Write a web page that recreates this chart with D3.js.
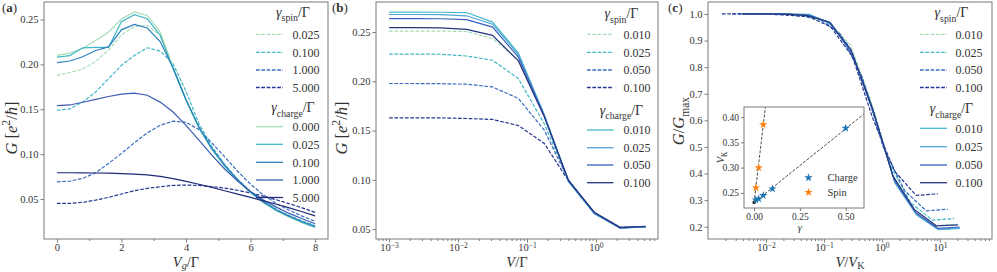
<!DOCTYPE html>
<html>
<head>
<meta charset="utf-8">
<script src="https://cdn.jsdelivr.net/npm/d3@7"></script>
<style>
  body { margin: 0; background: #fff; }
  svg, svg text { font-family: "Liberation Serif", "DejaVu Serif", serif; }
</style>
</head>
<body>
<svg id="chart" width="997" height="272" font-family="Liberation Serif, DejaVu Serif, serif"></svg>
<script>
// ---- panel (a): G vs Vg ----
const vgA = [0, 0.4, 0.8, 1.2, 1.6, 2.0, 2.4, 2.8, 3.2, 3.6, 4.0, 4.4, 4.8, 5.2, 5.6, 6.0, 6.4, 6.8, 7.2, 7.6, 8.0];
const spinLabelsA = ["0.025", "0.100", "1.000", "5.000"];
const spinA = [
  [0.1878, 0.191, 0.1948, 0.2033, 0.216, 0.233, 0.2422, 0.2433, 0.2325, 0.196, 0.160, 0.1295, 0.1055, 0.0868, 0.0705, 0.0572, 0.0462, 0.0372, 0.0302, 0.024, 0.0187],
  [0.1489, 0.1504, 0.1581, 0.1693, 0.184, 0.1989, 0.2100, 0.2185, 0.2148, 0.2007, 0.170, 0.134, 0.1085, 0.0885, 0.072, 0.0585, 0.0475, 0.0385, 0.0315, 0.0255, 0.0205],
  [0.0692, 0.070, 0.073, 0.0793, 0.0896, 0.1008, 0.1126, 0.1237, 0.1322, 0.1368, 0.1355, 0.1275, 0.1125, 0.097, 0.081, 0.0665, 0.0545, 0.045, 0.0375, 0.031, 0.0252],
  [0.0452, 0.0452, 0.0463, 0.0489, 0.0519, 0.0556, 0.0593, 0.0619, 0.0637, 0.0652, 0.0656, 0.0652, 0.064, 0.0622, 0.0598, 0.0568, 0.0532, 0.0492, 0.0448, 0.0402, 0.0352]
];
const chargeLabelsA = ["0.000", "0.025", "0.100", "1.000", "5.000"];
const chargeA = [
  [0.210, 0.2125, 0.218, 0.2265, 0.236, 0.2505, 0.2585, 0.2545, 0.236, 0.197, 0.161, 0.130, 0.106, 0.087, 0.0705, 0.057, 0.046, 0.037, 0.030, 0.0238, 0.0185],
  [0.208, 0.2098, 0.2185, 0.219, 0.219, 0.2475, 0.2553, 0.2508, 0.2325, 0.195, 0.160, 0.1295, 0.1055, 0.0868, 0.0705, 0.0572, 0.0462, 0.0372, 0.0302, 0.024, 0.0187],
  [0.202, 0.2038, 0.2085, 0.2155, 0.2195, 0.2385, 0.2445, 0.2405, 0.2255, 0.196, 0.161, 0.1305, 0.1065, 0.0878, 0.0715, 0.058, 0.047, 0.038, 0.031, 0.025, 0.0195],
  [0.1540, 0.1548, 0.1578, 0.161, 0.1642, 0.1668, 0.1680, 0.1656, 0.158, 0.147, 0.132, 0.1156, 0.099, 0.0835, 0.070, 0.0585, 0.049, 0.041, 0.034, 0.028, 0.0225],
  [0.0793, 0.0793, 0.0792, 0.079, 0.0788, 0.0784, 0.0778, 0.077, 0.0752, 0.0727, 0.0697, 0.0665, 0.063, 0.0592, 0.0555, 0.0518, 0.048, 0.0442, 0.0402, 0.0358, 0.0312]
];

// ---- panel (b): G vs V (log) ----
const vB = [0.001, 0.00237, 0.00562, 0.0133, 0.0316, 0.0750, 0.178, 0.40, 0.946, 2.24, 5.3];
const gammaLabelsB = ["0.010", "0.025", "0.050", "0.100"];
const spinB = [
  [0.2510, 0.2510, 0.2510, 0.2505, 0.2435, 0.2215, 0.1650, 0.0985, 0.0660, 0.0514, 0.0525],
  [0.2277, 0.2277, 0.2275, 0.2257, 0.2214, 0.2028, 0.1570, 0.1000, 0.0660, 0.0512, 0.0525],
  [0.1978, 0.1978, 0.1976, 0.1971, 0.1943, 0.1826, 0.1505, 0.0995, 0.0665, 0.0514, 0.0526],
  [0.1630, 0.1630, 0.1629, 0.1623, 0.1613, 0.1552, 0.1370, 0.0990, 0.0668, 0.0518, 0.0528]
];
const chargeB = [
  [0.2702, 0.2702, 0.2701, 0.2698, 0.2601, 0.2287, 0.1660, 0.0982, 0.0662, 0.0512, 0.0525],
  [0.2678, 0.2678, 0.2677, 0.2665, 0.2580, 0.2272, 0.1655, 0.0985, 0.0655, 0.0510, 0.0524],
  [0.2636, 0.2636, 0.2635, 0.2626, 0.2550, 0.2245, 0.1650, 0.0990, 0.0665, 0.0512, 0.0525],
  [0.2544, 0.2544, 0.2542, 0.2528, 0.2467, 0.2207, 0.1640, 0.0995, 0.0672, 0.0518, 0.0527]
];

// ---- panel (c) + inset: Kondo scale V_K vs gamma ----
const gammaCharge = [0.01, 0.025, 0.05, 0.1, 0.5];
const vKCharge = [0.236, 0.238, 0.245, 0.258, 0.378];
const gammaSpin = [0.01, 0.025, 0.05, 0.1];
const vKSpin = [0.26, 0.30, 0.385, 0.575];
const fitCharge = [0.231, 0.292]; // intercept, slope
const fitSpin = [0.231, 3.05];

const spinColors = ["#a8dcb5", "#41b6c4", "#3b6cc0", "#263592"];
const chargeColorsA = ["#a8dcb5", "#41b6c4", "#2c80bd", "#3d5cb2", "#1f2b78"];
const chargeColorsB = ["#46b8cc", "#4ea6d6", "#3a60c0", "#26347e"];

const svg = d3.select("#chart");
const spineColor = "#7a7a7a";
const textColor = "#333";
const tickSize = 10.5;

function rich(t, parts, size, subShift = 0.3) {
  let off = 0;
  parts.forEach(p => {
    const s = p[0], o = p[1] || {};
    const target = o.sub ? size * subShift : o.sup ? -size * 0.42 : 0;
    const ts = t.append("tspan").text(s).attr("dy", target - off);
    off = target;
    ts.attr("font-size", (o.sub || o.sup) ? size * 0.7 : size);
    if (o.it) ts.attr("font-style", "italic");
    if (o.b) ts.attr("font-weight", "bold");
  });
  return t;
}

function frame(x0, x1, y0, y1) {
  svg.append("rect").attr("x", x0).attr("y", y0)
    .attr("width", x1 - x0).attr("height", y1 - y0)
    .attr("fill", "none").attr("stroke", spineColor).attr("stroke-width", 1);
}

function styleAxis(g, size) {
  g.attr("font-family", null).attr("font-size", null);
  g.select(".domain").remove();
  g.selectAll(".tick line").attr("stroke", spineColor);
  g.selectAll(".tick text").attr("fill", textColor).attr("font-size", size);
}

function logLabels(g) {
  g.selectAll(".tick text").each(function (d) {
    const t = d3.select(this).text("");
    const e = Math.round(Math.log10(d));
    t.append("tspan").text("10");
    t.append("tspan").attr("dy", "-0.45em").attr("font-size", "0.72em").text(e < 0 ? "\u2212" + (-e) : e);
  });
}

function minorLog(domain) {
  const out = [];
  for (let k = -5; k <= 3; k++) for (let m = 2; m <= 9; m++) {
    const v = m * Math.pow(10, k);
    if (v >= domain[0] && v <= domain[1]) out.push(v);
  }
  return out;
}

function legend(L) {
  const titleSize = 14;
  const drawGroup = (title, ty, labels, ys, colors, dash) => {
    rich(svg.append("text").attr("x", L.tx).attr("y", ty).attr("text-anchor", "middle").attr("fill", textColor),
      [["\u03b3", { it: 1 }], [title, { sub: 1 }], ["/\u0393"]], titleSize);
    labels.forEach((lab, i) => {
      svg.append("line").attr("x1", L.lx0).attr("x2", L.lx1).attr("y1", ys[i]).attr("y2", ys[i])
        .attr("stroke", colors[i]).attr("stroke-width", 1.3)
        .attr("stroke-dasharray", dash ? "3.7,1.6" : null);
      svg.append("text").attr("x", L.textX).attr("y", ys[i]).attr("dy", "0.35em")
        .attr("font-size", 12).attr("fill", textColor).text(lab);
    });
  };
  drawGroup("spin", L.spinTitleY, L.spinLabels, L.spinYs, L.spinColors, true);
  drawGroup("charge", L.chargeTitleY, L.chargeLabels, L.chargeYs, L.chargeColors, false);
}

function drawLines(x, y, xs, series, colors, dash) {
  const line = d3.line().x((d, i) => x(xs[i])).y(d => y(d));
  series.forEach((s, i) => {
    svg.append("path").datum(s).attr("d", line).attr("fill", "none")
      .attr("stroke", colors[i]).attr("stroke-width", 1.2)
      .attr("stroke-dasharray", dash ? "3.7,1.6" : null);
  });
}

function panelLabel(x, letter) {
  rich(svg.append("text").attr("x", x).attr("y", 12).attr("fill", textColor),
    [["("], [letter, { b: 1 }], [")"]], 13);
}

function xLabel(cx, parts) {
  rich(svg.append("text").attr("x", cx).attr("y", 266.5).attr("text-anchor", "middle").attr("fill", textColor),
    parts, 14.5, 0.2);
}

// ================= panel (a) =================
{
  const L = 44, R = 328, T = 2, B = 239;
  const x = d3.scaleLinear().domain([-0.4, 8.4]).range([L, R]);
  const y = d3.scaleLinear().domain([0.0055, 0.2695]).range([B, T]);
  svg.append("g").attr("transform", `translate(0,${B})`)
    .call(d3.axisBottom(x).tickValues([1, 3, 5, 7]).tickSize(2).tickFormat(""))
    .call(g => styleAxis(g, tickSize));
  svg.append("g").attr("transform", `translate(0,${B})`)
    .call(d3.axisBottom(x).tickValues([0, 2, 4, 6, 8]).tickSize(3.5).tickPadding(1).tickFormat(d3.format("d")))
    .call(g => styleAxis(g, tickSize));
  svg.append("g").attr("transform", `translate(${L},0)`)
    .call(d3.axisLeft(y).tickValues([0.05, 0.10, 0.15, 0.20, 0.25]).tickSize(3.5).tickPadding(2).tickFormat(d3.format(".2f")))
    .call(g => styleAxis(g, tickSize));
  drawLines(x, y, vgA, spinA, spinColors, true);
  drawLines(x, y, vgA, chargeA, chargeColorsA, false);
  frame(L, R, T, B);
  legend({
    tx: 293, lx0: 256, lx1: 283, textX: 292.5,
    spinTitleY: 16.7, spinLabels: spinLabelsA, spinYs: [34.3, 52.3, 70, 87.5], spinColors: spinColors,
    chargeTitleY: 112.3, chargeLabels: chargeLabelsA, chargeYs: [126.7, 144.3, 162.3, 180, 197.5], chargeColors: chargeColorsA
  });
  xLabel((L + R) / 2, [["V", { it: 1 }], ["g", { it: 1, sub: 1 }], ["/\u0393"]]);
  rich(svg.append("text").attr("transform", "translate(17,128) rotate(-90)").attr("text-anchor", "middle").attr("fill", textColor),
    [["G", { it: 1 }], [" ["], ["e", { it: 1 }], ["2", { sup: 1 }], ["/"], ["\u0127", { it: 1 }], ["]"]], 16.5);
  panelLabel(2, "a");
}

// ================= panel (b) =================
{
  const L = 376, R = 658, T = 2, B = 239;
  const dom = [Math.pow(10, -3.19), Math.pow(10, 0.9)];
  const x = d3.scaleLog().domain(dom).range([L, R]);
  const y = d3.scaleLinear().domain([0.040, 0.2805]).range([B, T]);
  svg.append("g").attr("transform", `translate(0,${B})`)
    .call(d3.axisBottom(x).tickValues(minorLog(dom)).tickSize(2).tickFormat(""))
    .call(g => styleAxis(g, tickSize));
  svg.append("g").attr("transform", `translate(0,${B})`)
    .call(d3.axisBottom(x).tickValues([1e-3, 1e-2, 1e-1, 1]).tickSize(3.5).tickPadding(1.5))
    .call(g => styleAxis(g, tickSize)).call(logLabels);
  svg.append("g").attr("transform", `translate(${L},0)`)
    .call(d3.axisLeft(y).tickValues([0.05, 0.10, 0.15, 0.20, 0.25]).tickSize(3.5).tickPadding(2).tickFormat(d3.format(".2f")))
    .call(g => styleAxis(g, tickSize));
  drawLines(x, y, vB, spinB, spinColors, true);
  drawLines(x, y, vB, chargeB, chargeColorsB, false);
  frame(L, R, T, B);
  legend({
    tx: 621.5, lx0: 587, lx1: 613.5, textX: 623.5,
    spinTitleY: 18.3, spinLabels: gammaLabelsB, spinYs: [34.3, 52.3, 70, 87.5], spinColors: spinColors,
    chargeTitleY: 115, chargeLabels: gammaLabelsB, chargeYs: [130, 147.7, 165, 182.7], chargeColors: chargeColorsB
  });
  xLabel((L + R) / 2, [["V", { it: 1 }], ["/\u0393"]]);
  rich(svg.append("text").attr("transform", "translate(347,128) rotate(-90)").attr("text-anchor", "middle").attr("fill", textColor),
    [["G", { it: 1 }], [" ["], ["e", { it: 1 }], ["2", { sup: 1 }], ["/"], ["\u0127", { it: 1 }], ["]"]], 16.5);
  panelLabel(332, "b");
}

// ================= panel (c) =================
{
  const L = 708, R = 992, T = 2, B = 239;
  const dom = [Math.pow(10, -3.0), Math.pow(10, 1.9)];
  const x = d3.scaleLog().domain(dom).range([L, R]);
  const y = d3.scaleLinear().domain([0.154, 1.045]).range([B, T]);
  svg.append("g").attr("transform", `translate(0,${B})`)
    .call(d3.axisBottom(x).tickValues(minorLog(dom)).tickSize(2).tickFormat(""))
    .call(g => styleAxis(g, tickSize));
  svg.append("g").attr("transform", `translate(0,${B})`)
    .call(d3.axisBottom(x).tickValues([1e-2, 1e-1, 1, 10]).tickSize(3.5).tickPadding(1.5))
    .call(g => styleAxis(g, tickSize)).call(logLabels);
  svg.append("g").attr("transform", `translate(${L},0)`)
    .call(d3.axisLeft(y).tickValues([0.2, 0.3, 0.4, 0.5, 0.6, 0.7, 0.8, 0.9, 1.0]).tickSize(3.5).tickPadding(2).tickFormat(d3.format(".1f")))
    .call(g => styleAxis(g, tickSize));

  const clipId = "clipC";
  svg.append("clipPath").attr("id", clipId).append("rect")
    .attr("x", L).attr("y", T).attr("width", R - L).attr("height", B - T);
  const gc = svg.append("g").attr("clip-path", `url(#${clipId})`);
  const norm = (series, vK) => series.map((s, i) => s.map((g, j) => ({ x: vB[j] / vK[i], y: g / s[0] })));
  const line = d3.line().x(d => x(d.x)).y(d => y(d.y));
  norm(spinB, vKSpin).forEach((s, i) => gc.append("path").datum(s).attr("d", line).attr("fill", "none")
    .attr("stroke", spinColors[i]).attr("stroke-width", 1.2).attr("stroke-dasharray", "3.7,1.6"));
  norm(chargeB, vKCharge).forEach((s, i) => gc.append("path").datum(s).attr("d", line).attr("fill", "none")
    .attr("stroke", chargeColorsB[i]).attr("stroke-width", 1.2));
  frame(L, R, T, B);
  legend({
    tx: 951.5, lx0: 920, lx1: 947, textX: 955.5,
    spinTitleY: 17.3, spinLabels: gammaLabelsB, spinYs: [34.3, 52.3, 70, 87.5], spinColors: spinColors,
    chargeTitleY: 113.3, chargeLabels: gammaLabelsB, chargeYs: [128.3, 146.7, 165, 182.7], chargeColors: chargeColorsB
  });
  xLabel((L + R) / 2, [["V", { it: 1 }], ["/"], ["V", { it: 1 }], ["K", { sub: 1 }]]);
  rich(svg.append("text").attr("transform", "translate(684,121) rotate(-90)").attr("text-anchor", "middle").attr("fill", textColor),
    [["G", { it: 1 }], ["/"], ["G", { it: 1 }], ["max", { sub: 1 }]], 16.5);
  panelLabel(668, "c");

  // ---- inset ----
  const iL = 744, iR = 864, iT = 107, iB = 208;
  const xi = d3.scaleLinear().domain([-0.055, 0.60]).range([iL, iR]);
  const yi = d3.scaleLinear().domain([0.22, 0.42]).range([iB, iT]);
  svg.append("rect").attr("x", iL).attr("y", iT).attr("width", iR - iL).attr("height", iB - iT).attr("fill", "#fff");
  svg.append("clipPath").attr("id", "clipI").append("rect")
    .attr("x", iL).attr("y", iT).attr("width", iR - iL).attr("height", iB - iT);
  const gi = svg.append("g").attr("clip-path", "url(#clipI)");
  [fitCharge, fitSpin].forEach(f => {
    const pts = [0, 0.6].map(g => ({ g, v: f[0] + f[1] * g }));
    gi.append("path").datum(pts).attr("d", d3.line().x(d => xi(d.g)).y(d => yi(d.v)))
      .attr("stroke", "#222").attr("stroke-width", 0.8).attr("stroke-dasharray", "3,1.5").attr("fill", "none");
  });
  gi.append("circle").attr("cx", xi(0)).attr("cy", yi(fitCharge[0])).attr("r", 1.6).attr("fill", "#111");
  const star = d3.symbol().type(d3.symbolStar).size(22);
  gammaCharge.forEach((g, i) => gi.append("path").attr("d", star)
    .attr("transform", `translate(${xi(g)},${yi(vKCharge[i])})`).attr("fill", "#1f77b4"));
  gammaSpin.forEach((g, i) => gi.append("path").attr("d", star)
    .attr("transform", `translate(${xi(g)},${yi(vKSpin[i])})`).attr("fill", "#ff7f0e"));
  svg.append("g").attr("transform", `translate(0,${iB})`)
    .call(d3.axisBottom(xi).tickValues([0, 0.25, 0.5]).tickSize(3).tickPadding(2).tickFormat(d3.format(".2f")))
    .call(g => styleAxis(g, 9.5));
  svg.append("g").attr("transform", `translate(${iL},0)`)
    .call(d3.axisLeft(yi).tickValues([0.25, 0.30, 0.35, 0.40]).tickSize(3).tickPadding(2).tickFormat(d3.format(".2f")))
    .call(g => styleAxis(g, 9.5));
  frame(iL, iR, iT, iB);
  rich(svg.append("text").attr("x", xi(0.25)).attr("y", 231).attr("text-anchor", "middle").attr("fill", textColor),
    [["\u03b3", { it: 1 }]], 10.5);
  rich(svg.append("text").attr("transform", `translate(724,${(iT + iB) / 2}) rotate(-90)`).attr("text-anchor", "middle").attr("fill", textColor),
    [["V", { it: 1 }], ["K", { sub: 1 }]], 10.5);
  [["Charge", "#1f77b4", 177.7], ["Spin", "#ff7f0e", 192.3]].forEach(([lab, col, yy]) => {
    svg.append("path").attr("d", star).attr("transform", `translate(808.5,${yy})`).attr("fill", col);
    svg.append("text").attr("x", 827.5).attr("y", yy).attr("dy", "0.35em").attr("font-size", 10.5)
      .attr("fill", textColor).text(lab);
  });
}
</script>
</body>
</html>
